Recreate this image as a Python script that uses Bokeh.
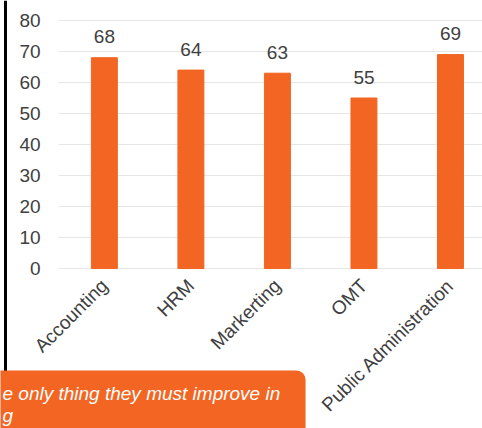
import math
from bokeh.plotting import figure
from bokeh.models import (Range1d, ColumnDataSource, FixedTicker, LinearAxis,
                          Span)
from bokeh.core.properties import value
from bokeh.embed import file_html
from bokeh.resources import INLINE

categories = ["Accounting", "HRM", "Markerting", "OMT", "Public Administration"]
scores = [68, 64, 63, 55, 69]
y_ticks = [0, 10, 20, 30, 40, 50, 60, 70, 80]
callout_lines = ["e only thing they must improve in", "g"]

FONT = "Liberation Sans Narrow, Liberation Sans, Arial"
ORANGE = "#F26522"
GREY = "#404040"

W, H = 482, 428
# frame covers the whole canvas; the chart area is placed inside it
X0, X1 = -1.2005, 4.37       # data x at canvas left / right edge
Y0, Y1 = -51.6, 86.45        # data y at canvas bottom / top edge
CAT_LEFT = -0.53             # left edge of the category area (y axis position)

xs = list(range(len(categories)))
src = ColumnDataSource(dict(x=xs, y=scores, lbl=[str(v) for v in scores]))

p = figure(width=W, height=H, output_backend="svg", toolbar_location=None,
           x_range=Range1d(X0, X1), y_range=Range1d(Y0, Y1),
           min_border=0, x_axis_location=None, y_axis_location=None)
p.outline_line_color = None
p.background_fill_color = "white"
p.grid.visible = False

# black slide border on the left (below the callout box)
p.add_layout(Span(location=X0 + 5.0 / 86.5, dimension="height",
                  line_color="black", line_width=3, level="underlay"))

# horizontal grid lines across the category area
p.segment(x0=CAT_LEFT, x1=X1, y0=y_ticks, y1=y_ticks,
          line_color="#E6E6E6", line_width=1)

p.vbar(x="x", top="y", width=0.3, source=src, color=ORANGE)
p.text(x="x", y="y", text="lbl", source=src, text_align="center",
       text_baseline="alphabetic", y_offset=-21, text_font=value(FONT),
       text_font_size="19px", text_color=GREY)

yax = LinearAxis(fixed_location=CAT_LEFT, ticker=FixedTicker(ticks=y_ticks))
yax.axis_line_color = None
yax.major_tick_line_color = None
yax.minor_tick_line_color = None
yax.major_label_standoff = 12
yax.major_label_text_font = FONT
yax.major_label_text_font_size = "19px"
yax.major_label_text_color = GREY
p.add_layout(yax, "left")

xax = LinearAxis(fixed_location=0, ticker=FixedTicker(ticks=xs))
xax.major_label_overrides = {i: c for i, c in enumerate(categories)}
xax.axis_line_color = None
xax.major_tick_line_color = None
xax.minor_tick_line_color = None
xax.major_label_orientation = math.pi / 4
xax.major_label_standoff = 8
xax.major_label_text_font = FONT
xax.major_label_text_font_size = "19px"
xax.major_label_text_color = GREY
p.add_layout(xax, "below")

# orange callout box at the bottom left
p.quad(left=X0 - 0.2, right=2.325, top=-32.9, bottom=Y0 - 5,
       fill_color=ORANGE, line_color=None, border_radius=9)
p.text(x=[X0 + 2.0 / 86.5, X0 + 2.0 / 86.5], y=[-40.3, -47.3], text=callout_lines,
       text_align="left", text_baseline="alphabetic", text_font=value(FONT),
       text_font_style="italic", text_font_size="19px", text_color="white")

open("out.html", "w").write(file_html(p, INLINE))
